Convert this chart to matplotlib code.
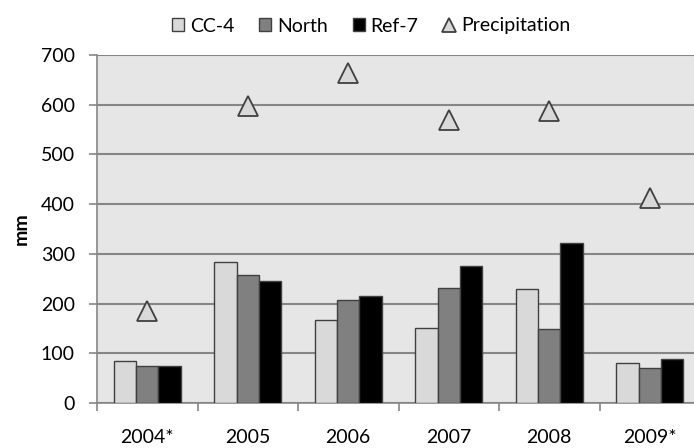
import numpy as np
import matplotlib.pyplot as plt
from matplotlib.ticker import FixedLocator

plt.rcParams['font.family'] = ['Lato', 'DejaVu Sans']

# annual totals per site (mm)
years = ['2004*', '2005', '2006', '2007', '2008', '2009*']
cc4 = [85, 284, 166, 151, 229, 81]
north = [74, 257, 208, 232, 148, 71]
ref7 = [74, 246, 215, 275, 322, 88]
precip = [186, 598, 664, 569, 587, 412]

fig = plt.figure(figsize=(6.94, 4.48), dpi=100)
ax = fig.add_axes([97 / 694, 45 / 448, 603 / 694, 348 / 448])
ax.set_facecolor('#e6e6e6')

x = np.arange(len(years))
w = 0.222
edge = '#404040'
b1 = ax.bar(x - w, cc4, w, color='#d9d9d9', edgecolor=edge, linewidth=1, zorder=3)
b2 = ax.bar(x, north, w, color='#808080', edgecolor=edge, linewidth=1, zorder=3)
b3 = ax.bar(x + w, ref7, w, color='black', edgecolor=edge, linewidth=1, zorder=3)
p, = ax.plot(x, precip, linestyle='none', marker='^', ms=15, mfc='#d9d9d9', mec=edge,
             mew=1.3, zorder=4)

ax.set_xlim(-0.5, len(years) - 0.5)
ax.set_ylim(0, 700)
ax.set_yticks(range(0, 701, 100))
ax.yaxis.grid(True, color='#868686', linewidth=1.5, zorder=0)
ax.set_axisbelow(True)

for s in ['top', 'right']:
    ax.spines[s].set_visible(False)
for s in ['left', 'bottom']:
    ax.spines[s].set_color('#868686')
    ax.spines[s].set_linewidth(1.2)

fs = 14
ax.set_xticks(x)
ax.set_xticklabels(years)
ax.tick_params(axis='x', which='major', length=0, pad=19, labelsize=fs)
ax.xaxis.set_minor_locator(FixedLocator(np.arange(-0.5, len(years), 1)))
ax.tick_params(axis='x', which='minor', length=6, color='#868686', width=1.2)
ax.tick_params(axis='y', length=6, color='#868686', width=1.2, labelsize=fs, pad=10)

ax.set_ylabel('mm', fontsize=fs, fontweight='bold', labelpad=8)

leg = fig.legend([b1, b2, b3, p], ['CC-4', 'North', 'Ref-7', 'Precipitation'],
                 loc='upper center', bbox_to_anchor=(0.535, 1.0), ncol=4, frameon=False,
                 fontsize=fs, handlelength=0.6, handleheight=0.6, handletextpad=0.3,
                 columnspacing=1.3)
for h in leg.legend_handles:
    if hasattr(h, 'set_markersize'):
        h.set_markersize(10)

fig.savefig('out.png', dpi=100)
